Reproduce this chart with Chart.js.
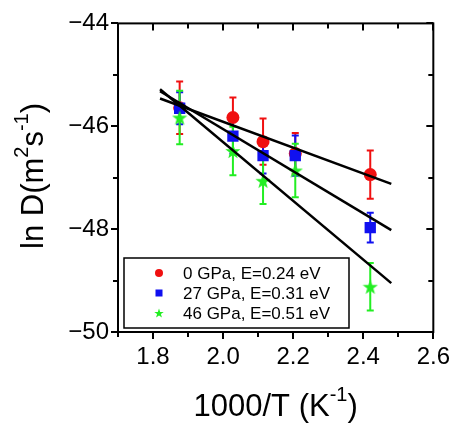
<!DOCTYPE html>
<html>
<head>
<meta charset="utf-8">
<script src="https://cdn.jsdelivr.net/npm/chart.js@4.4.0/dist/chart.umd.min.js"></script>
<style>
  html, body { margin: 0; padding: 0; background: #fff; }
  #wrap { width: 461px; height: 423px; }
</style>
</head>
<body>
<div id="wrap"><canvas id="c"></canvas></div>
<script>
// values
const invT = [1.876, 2.028, 2.114, 2.206, 2.42];
const lnD0 = [-45.64, -45.83, -46.30, -46.53, -46.94];
const err0 = [0.51, 0.39, 0.45, 0.40, 0.47];
const lnD27 = [-45.65, -46.19, -46.57, -46.57, -47.97];
const err27 = [0.31, 0.34, 0.35, 0.39, 0.29];
const lnD46 = [-45.83, -46.48, -47.06, -46.86, -49.12];
const err46 = [0.52, 0.47, 0.45, 0.52, 0.46];
const fitX = [1.82, 2.48];
const fit0 = [-45.46, -47.12];
const fit27 = [-45.32, -48.02];
const fit46 = [-45.28, -49.05];
const seriesLabels = ['0 GPa, E=0.24 eV', '27 GPa, E=0.31 eV', '46 GPa, E=0.51 eV'];
const xTicks = [1.8, 2.0, 2.2, 2.4, 2.6];
const yTicks = [-50, -48, -46, -44];

const RED = '#f01010', BLUE = '#1010f0', GREEN = '#22ee22';
const FONT = '"Liberation Sans", Arial, sans-serif';

function starImg(size, color) {
  const c = document.createElement('canvas');
  c.width = c.height = size;
  const g = c.getContext('2d');
  g.fillStyle = color;
  g.beginPath();
  for (let i = 0; i < 10; i++) {
    const r = i % 2 ? size * 0.2 : size / 2;
    const a = -Math.PI / 2 + i * Math.PI / 5;
    g.lineTo(size / 2 + r * Math.cos(a), size / 2 + r * Math.sin(a) + size * 0.05);
  }
  g.closePath();
  g.fill();
  return c;
}
const star = starImg(16, GREEN);
const starSmall = starImg(10, GREEN);

const pts = (xs, ys) => xs.map((x, i) => ({ x: x, y: ys[i] }));

const errSets = [
  { ys: lnD0, e: err0, color: RED },
  { ys: lnD27, e: err27, color: BLUE },
  { ys: lnD46, e: err46, color: GREEN },
];

function richText(ctx, parts, size, supSize) {
  let w = 0;
  parts.forEach(p => {
    ctx.font = (p[1] ? supSize : size) + 'px ' + FONT;
    w += ctx.measureText(p[0]).width;
  });
  let x = -w / 2;
  parts.forEach(p => {
    ctx.font = (p[1] ? supSize : size) + 'px ' + FONT;
    ctx.fillText(p[0], x, p[1] ? -size * 0.38 : 0);
    x += ctx.measureText(p[0]).width;
  });
}

const decor = {
  id: 'decor',
  beforeDatasetsDraw(chart) {
    const ctx = chart.ctx, xs = chart.scales.x, ys = chart.scales.y;
    ctx.save();
    ctx.lineWidth = 2;
    errSets.forEach(s => {
      ctx.strokeStyle = s.color;
      invT.forEach((v, i) => {
        const px = xs.getPixelForValue(v);
        const top = ys.getPixelForValue(s.ys[i] + s.e[i]);
        const bot = ys.getPixelForValue(s.ys[i] - s.e[i]);
        ctx.beginPath();
        ctx.moveTo(px, top); ctx.lineTo(px, bot);
        ctx.moveTo(px - 3.5, top); ctx.lineTo(px + 3.5, top);
        ctx.moveTo(px - 3.5, bot); ctx.lineTo(px + 3.5, bot);
        ctx.stroke();
      });
    });
    ctx.restore();
  },
  afterDraw(chart) {
    const ctx = chart.ctx, a = chart.chartArea, xs = chart.scales.x, ys = chart.scales.y;
    ctx.save();
    ctx.strokeStyle = '#000';
    ctx.lineWidth = 2;
    ctx.strokeRect(a.left, a.top, a.right - a.left, a.bottom - a.top);
    ctx.beginPath();
    // x ticks every 0.1
    for (let k = 17; k <= 26; k++) {
      const px = Math.round(xs.getPixelForValue(k / 10));
      const len = k % 2 === 0 ? 7 : 5;
      ctx.moveTo(px, a.bottom); ctx.lineTo(px, a.bottom + len);
      ctx.moveTo(px, a.top); ctx.lineTo(px, a.top + len);
    }
    // y ticks every 1
    for (let k = -50; k <= -44; k++) {
      const py = Math.round(ys.getPixelForValue(k));
      const len = k % 2 === 0 ? 7 : 5;
      ctx.moveTo(a.left, py); ctx.lineTo(a.left - len, py);
      ctx.moveTo(a.right, py); ctx.lineTo(a.right - len, py);
    }
    ctx.stroke();

    // axis titles
    ctx.fillStyle = '#000';
    ctx.textBaseline = 'middle';
    ctx.textAlign = 'left';
    ctx.save();
    ctx.translate((a.left + a.right) / 2, 407);
    richText(ctx, [['1000/T (K', false], ['-1', true], [')', false]], 31, 20);
    ctx.restore();
    ctx.save();
    ctx.translate(34, 176);
    ctx.rotate(-Math.PI / 2);
    richText(ctx, [['ln D(m', false], ['2', true], ['s', false], ['-1', true], [')', false]], 31, 20);
    ctx.restore();

    // legend box
    const bx = a.left + 6, by = a.bottom - 74, bw = 225, bh = 70;
    ctx.lineWidth = 1.5;
    ctx.strokeRect(bx, by, bw, bh);
    ctx.font = '17px ' + FONT;
    seriesLabels.forEach((lab, i) => {
      const cy = by + 15 + i * 20;
      const mx = bx + 35;
      if (i === 0) {
        ctx.fillStyle = RED;
        ctx.beginPath(); ctx.arc(mx, cy, 4, 0, Math.PI * 2); ctx.fill();
      } else if (i === 1) {
        ctx.fillStyle = BLUE;
        ctx.fillRect(mx - 3.5, cy - 3.5, 7, 7);
      } else {
        ctx.drawImage(starSmall, mx - 5, cy - 5);
      }
      ctx.fillStyle = '#000';
      ctx.fillText(lab, bx + 59, cy + 1);
    });
    ctx.restore();
  }
};

new Chart(document.getElementById('c'), {
  type: 'scatter',
  data: {
    datasets: [
      { type: 'line', data: pts(fitX, fit0), borderColor: '#000', borderWidth: 2.5, pointRadius: 0, order: 0 },
      { type: 'line', data: pts(fitX, fit27), borderColor: '#000', borderWidth: 2.5, pointRadius: 0, order: 0 },
      { type: 'line', data: pts(fitX, fit46), borderColor: '#000', borderWidth: 2.5, pointRadius: 0, order: 0 },
      { label: seriesLabels[2], data: pts(invT, lnD46), pointStyle: star, order: 1 },
      { label: seriesLabels[1], data: pts(invT, lnD27), pointStyle: 'rect', pointRadius: 8,
        backgroundColor: BLUE, borderColor: BLUE, borderWidth: 0, order: 2 },
      { label: seriesLabels[0], data: pts(invT, lnD0), pointStyle: 'circle', pointRadius: 6.5,
        backgroundColor: RED, borderColor: RED, borderWidth: 0, order: 3 },
    ]
  },
  options: {
    responsive: true,
    maintainAspectRatio: false,
    animation: false,
    layout: { padding: { top: 23, right: 19, left: 0, bottom: 0 } },
    plugins: { legend: { display: false }, tooltip: { enabled: false } },
    scales: {
      x: {
        type: 'linear', min: 1.7, max: 2.6,
        grid: { display: false, drawTicks: false },
        border: { display: false },
        afterBuildTicks: s => { s.ticks = xTicks.map(v => ({ value: v })); },
        afterFit: s => { s.height = 91; },
        ticks: {
          padding: 11, color: '#000', font: { family: FONT, size: 24 },
          maxRotation: 0,
          callback: v => v.toFixed(1)
        }
      },
      y: {
        type: 'linear', min: -50, max: -44,
        grid: { display: false, drawTicks: false },
        border: { display: false },
        afterBuildTicks: s => { s.ticks = yTicks.map(v => ({ value: v })); },
        afterFit: s => { s.width = 118; },
        ticks: {
          padding: 9, color: '#000', font: { family: FONT, size: 24 },
          callback: v => '\u2212' + Math.abs(v)
        }
      }
    }
  },
  plugins: [decor]
});
</script>
</body>
</html>
